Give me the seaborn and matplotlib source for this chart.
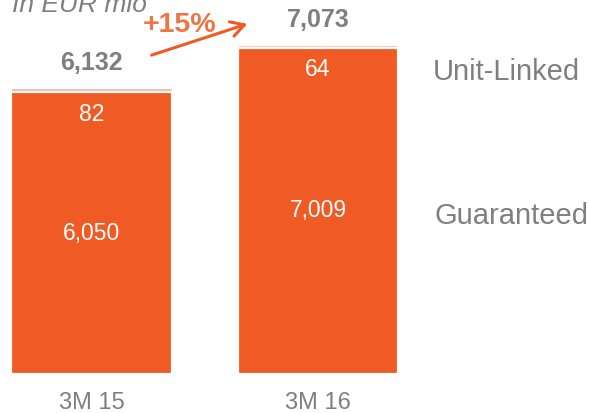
import matplotlib
matplotlib.use("Agg")
import matplotlib.pyplot as plt
import seaborn as sns
import pandas as pd

# Gross written premiums, life segment (EUR mio)
periods = ["3M 15", "3M 16"]
guaranteed = [6050, 7009]
unit_linked = [82, 64]
totals = [6132, 7073]
growth_label = "+15%"

ORANGE = "#EF5A25"
PALE = "#F8B39A"
GREY = "#7F7F7F"

sns.set_theme(style="white")
plt.rcParams["font.family"] = ["Liberation Sans", "DejaVu Sans"]

df = pd.DataFrame({"period": periods, "guaranteed": guaranteed,
                   "unit_linked": unit_linked, "total": totals})

fig = plt.figure(figsize=(5.9, 4.13), dpi=100)
ax = fig.add_axes([0, 0, 1, 1])

# stacked bars: full total (unit-linked on top) then guaranteed over it
sns.barplot(data=df, x="period", y="total", color=PALE, width=0.709,
            saturation=1, ax=ax)
sns.barplot(data=df, x="period", y="guaranteed", color=ORANGE, width=0.709,
            saturation=1, edgecolor="white", linewidth=1.6, ax=ax)

ax.set_xlim(-0.404, 2.201)
ax.set_ylim(-837, 8030)
ax.axis("off")

for i, row in df.iterrows():
    ax.annotate(f"{row.total:,}", (i, row.total), xytext=(0, 18),
                textcoords="offset points", ha="center", va="center",
                fontsize=18, fontweight="bold", color=GREY)
    ax.annotate(f"{row.unit_linked:,}", (i, row.guaranteed), xytext=(0, -16),
                textcoords="offset points", ha="center", va="center",
                fontsize=16.5, color="white")
    ax.text(i, row.guaranteed / 2, f"{row.guaranteed:,}", ha="center",
            va="center", fontsize=16.5, color="white")
    ax.text(i, -623, row.period, ha="center", va="center",
            fontsize=17, color=GREY)

# series names on the right
fig.text(433 / 590, 1 - 72 / 413, "Unit-Linked", ha="left", va="center",
         fontsize=21, color=GREY)
fig.text(435 / 590, 1 - 216 / 413, "Guaranteed", ha="left", va="center",
         fontsize=21, color=GREY)

# unit caption, partly above the top edge
fig.text(12 / 590, 1 - 12 / 413, "In EUR mio", ha="left", va="baseline",
         fontsize=19, style="italic", color=GREY)

# growth arrow
ax.annotate("", xy=(250 / 590, 1 - 23 / 413), xycoords="figure fraction",
            xytext=(149 / 590, 1 - 56 / 413), textcoords="figure fraction",
            arrowprops=dict(arrowstyle="->,head_length=0.8,head_width=0.45",
                            color=ORANGE, lw=2.2))
fig.text(180 / 590, 1 - 25 / 413, growth_label, ha="center", va="center",
         fontsize=20.5, fontweight="bold", color="#F07545")

fig.savefig("out.png", dpi=100)
